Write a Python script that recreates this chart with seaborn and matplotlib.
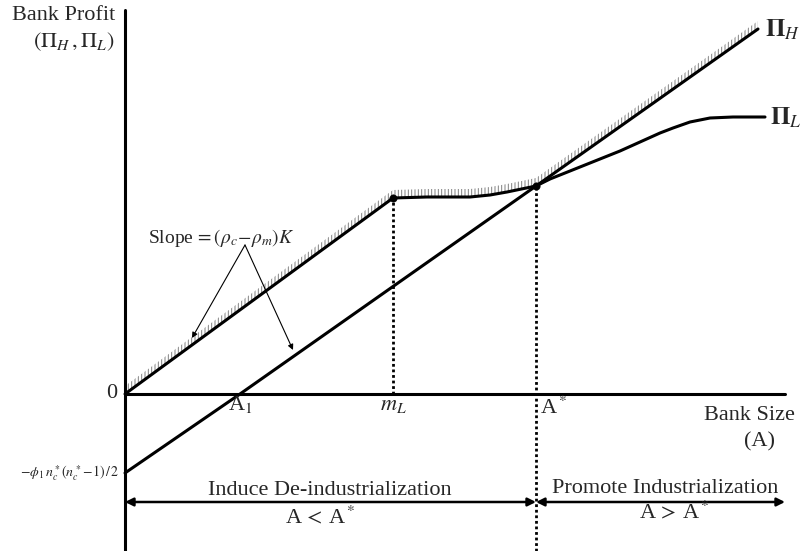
import numpy as np
import matplotlib.pyplot as plt
import seaborn as sns

# values (one unit ~ 100 px)
low_x = [0.0, 2.68]
low_y = [0.0, 1.96]
piH_x = [0.0, 1.15, 4.11, 6.33]
piH_y = [-0.79, 0.0, 2.08, 3.65]
piL_x = [2.68, 3.02, 3.45, 3.65, 3.82, 4.11, 4.25, 4.45, 4.75, 4.95, 5.15,
         5.35, 5.48, 5.65, 5.85, 6.08, 6.40]
piL_y = [1.96, 1.97, 1.97, 1.99, 2.02, 2.08, 2.15, 2.23, 2.35, 2.43, 2.52,
         2.61, 2.66, 2.72, 2.76, 2.77, 2.77]
m_L = 2.68
A_star = 4.11
A_1 = 1.15
x_end = 6.60

sns.set_theme(style='white')
plt.rcParams['font.family'] = ['Liberation Serif', 'DejaVu Serif']
plt.rcParams['mathtext.fontset'] = 'stix'
plt.rcParams['hatch.linewidth'] = 0.7

fig = plt.figure(figsize=(8.01, 5.51), dpi=100)
ax = fig.add_axes([0, 0, 1, 1])
ax.set_xlim(-1.25, 6.76)
ax.set_ylim(-1.57, 3.94)
ax.axis('off')

# axes
ax.plot([0, 0], [-1.57, 3.84], color='black', lw=2.2)
ax.plot([0, x_end], [0, 0], color='black', lw=2.2)

# upper envelope with hatching
i_star = piL_x.index(A_star)
env_x = low_x + piL_x[1:i_star + 1] + [piH_x[-1]]
env_y = low_y + piL_y[1:i_star + 1] + [piH_y[-1]]
ax.fill_between(env_x, env_y, np.array(env_y) + 0.08, facecolor='none',
                edgecolor='0.5', hatch='|||||', linewidth=0)

sns.lineplot(x=low_x, y=low_y, sort=False, color='black', lw=2.2, ax=ax)
sns.lineplot(x=piH_x, y=piH_y, sort=False, color='black', lw=2.2, ax=ax)
sns.lineplot(x=piL_x, y=piL_y, sort=False, color='black', lw=2.2, ax=ax)
sns.scatterplot(x=[m_L, A_star], y=[piL_y[0], piL_y[i_star]], color='black', s=28,
                edgecolor='black', zorder=5, ax=ax)

ax.vlines(m_L, 0, piL_y[0], colors='black', linestyles=(0, (1, 1)), lw=2)
ax.vlines(A_star, -1.57, piL_y[i_star], colors='black', linestyles=(0, (1, 1)), lw=2)

# bottom arrows
arr = dict(arrowstyle='<|-|>', color='black', lw=1.8, mutation_scale=12, shrinkA=0, shrinkB=0)
ax.annotate('', xy=(0, -1.08), xytext=(A_star, -1.08), arrowprops=arr)
ax.annotate('', xy=(A_star, -1.08), xytext=(x_end, -1.08), arrowprops=arr)

# slope arrows
thin = dict(arrowstyle='-|>', color='black', lw=0.8, mutation_scale=8, shrinkA=0, shrinkB=0)
ax.annotate('', xy=(0.67, 0.56), xytext=(1.20, 1.49), arrowprops=thin)
ax.annotate('', xy=(1.68, 0.44), xytext=(1.20, 1.49), arrowprops=thin)
ax.text(0.23, 1.51, r'Slope$\,=(\rho_c\!-\!\rho_m)K$', fontsize=14, va='baseline')

# labels
ax.text(-0.10, 3.79, 'Bank Profit', fontsize=16, ha='right', va='center')
ax.text(-0.10, 3.52, r'$(\Pi_H\,,\Pi_L)$', fontsize=16, ha='right', va='center')
ax.text(-0.08, 0.01, '0', fontsize=16, ha='right', va='center')
ax.text(A_1, -0.16, r'A$_1$', fontsize=16, ha='center', va='baseline')
ax.text(m_L, -0.16, r'$m_L$', fontsize=16, ha='center', va='baseline')
ax.text(A_star + 0.04, -0.20, r'A$^*$', fontsize=16, ha='left', va='baseline')
ax.text(6.70, -0.26, 'Bank Size', fontsize=16, ha='right', va='baseline')
ax.text(6.50, -0.52, '(A)', fontsize=16, ha='right', va='baseline')
ax.text(-0.05, -0.79, r'$-\phi_1\, n_c^*(n_c^*\!-\!1)\,/\,2$', fontsize=10, ha='right', va='center')
ax.text(2.05, -1.01, 'Induce De-industrialization', fontsize=16, ha='center', va='baseline')
ax.text(1.95, -1.29, r'A$\,<\,$A$^*$', fontsize=16, ha='center', va='baseline')
ax.text(5.40, -0.99, 'Promote Industrialization', fontsize=16, ha='center', va='baseline')
ax.text(5.49, -1.24, r'A$\,>\,$A$^*$', fontsize=16, ha='center', va='baseline')
ax.text(6.40, 3.64, r'$\mathbf{\Pi}_H$', fontsize=18, ha='left', va='center')
ax.text(6.45, 2.76, r'$\mathbf{\Pi}_L$', fontsize=18, ha='left', va='center')

fig.savefig('out.png', dpi=100)
